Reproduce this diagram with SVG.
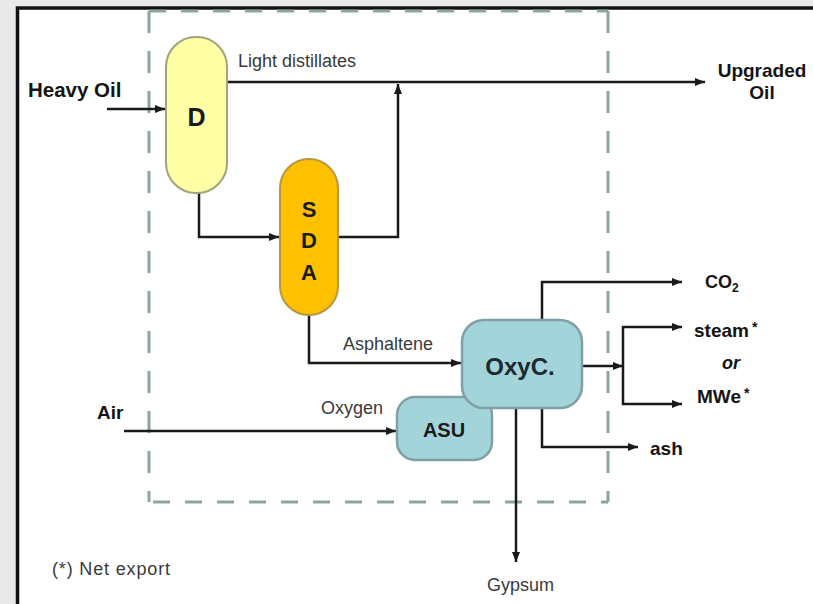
<svg xmlns="http://www.w3.org/2000/svg" width="813" height="604" viewBox="0 0 813 604">
<defs>
<marker id="arr" viewBox="0 0 10 8" refX="10" refY="4" markerWidth="10" markerHeight="8" markerUnits="userSpaceOnUse" orient="auto">
<path d="M0,0 L10,4 L0,8 z" fill="#1a1a1a"/>
</marker>
<style>
.conn{fill:none;stroke:#1a1a1a;stroke-width:2.5;marker-end:url(#arr)}
.dash{fill:none;stroke:#8ca59e;stroke-width:3}
.lbl{font-family:"Liberation Sans",Arial,sans-serif;font-size:18px;fill:#3a3a3a}
.bold{font-family:"Liberation Sans",Arial,sans-serif;font-weight:bold;fill:#141414}
.node-t{font-family:"Liberation Sans",Arial,sans-serif;font-weight:bold;fill:#1a1a1a;text-anchor:middle}
</style>
</defs>
<rect x="0" y="0" width="813" height="604" fill="#e9e9e9"/>
<rect x="17.5" y="8" width="820" height="620" fill="#ffffff" stroke="#111111" stroke-width="3.5"/>

<g id="boundary">
<line class="dash" x1="149" y1="11" x2="149" y2="502" stroke-dasharray="22 18"/>
<line class="dash" x1="608" y1="11" x2="608" y2="502" stroke-dasharray="22 18"/>
<line class="dash" x1="149" y1="11" x2="608" y2="11" stroke-dasharray="17 15"/>
<line class="dash" x1="149" y1="502" x2="608" y2="502" stroke-dasharray="17 15" stroke-dashoffset="-4"/>
</g>

<g id="connectors">
<path class="conn" d="M107,109 H165"/>
<path class="conn" d="M227,82 H705"/>
<path class="conn" d="M199,193 V237 H279"/>
<path class="conn" d="M338,237 H398 V84"/>
<path class="conn" d="M309,315 V363 H461"/>
<path class="conn" d="M124,431 H396"/>
<path class="conn" d="M542,320 V282 H682"/>
<path class="conn" d="M582,366 H623"/>
<path class="conn" d="M623,366 V327 H682"/>
<path class="conn" d="M623,366 V404 H682"/>
<path class="conn" d="M542,408 V447 H638"/>
<path class="conn" d="M516,408 V562"/>
</g>

<g id="node-D">
<rect x="166" y="37" width="61" height="156" rx="30" fill="#ffffa6" stroke="#a3a27a" stroke-width="2"/>
<text class="node-t" x="196.5" y="126" font-size="25">D</text>
</g>

<g id="node-SDA">
<rect x="280" y="159" width="58" height="156" rx="29" fill="#ffc000" stroke="#b8983a" stroke-width="2"/>
<text class="node-t" x="309" y="217" font-size="22">S</text>
<text class="node-t" x="309" y="248" font-size="22">D</text>
<text class="node-t" x="309" y="280" font-size="22">A</text>
</g>

<g id="node-ASU">
<rect x="397" y="397" width="95" height="63" rx="18" fill="#a3d4da" stroke="#7fa0a4" stroke-width="2.5"/>
<text class="node-t" x="444" y="437" font-size="20">ASU</text>
</g>

<g id="node-OxyC">
<rect x="462" y="320" width="120" height="88" rx="22" fill="#a3d4da" stroke="#7fa0a4" stroke-width="2.5"/>
<text x="520" y="375" font-family="Liberation Sans, Arial, sans-serif" font-size="24" fill="#1a2a30" text-anchor="middle" font-weight="bold">OxyC.</text>
</g>

<g id="labels">
<text class="bold" x="28" y="97" font-size="20.5">Heavy Oil</text>
<text class="lbl" x="238" y="67" font-size="18.5">Light distillates</text>
<text class="bold" x="762" y="77" font-size="19" text-anchor="middle">Upgraded</text>
<text class="bold" x="762" y="99" font-size="19" text-anchor="middle">Oil</text>
<text class="lbl" x="343" y="350">Asphaltene</text>
<text class="bold" x="97" y="419" font-size="19">Air</text>
<text class="lbl" x="321" y="414">Oxygen</text>
<text class="bold" x="705" y="288" font-size="18">CO<tspan font-size="12" dy="4">2</tspan></text>
<text class="bold" x="694" y="337" font-size="19">steam<tspan font-size="14" dx="3" dy="-5">*</tspan></text>
<text class="bold" x="731" y="369" font-size="18" font-style="italic" text-anchor="middle">or</text>
<text class="bold" x="697" y="403" font-size="19">MWe<tspan font-size="14" dx="3" dy="-5">*</tspan></text>
<text class="bold" x="650" y="455" font-size="19">ash</text>
<text class="lbl" x="487" y="591">Gypsum</text>
<text class="lbl" x="52" y="575" textLength="118">(*) Net export</text>
</g>
</svg>
